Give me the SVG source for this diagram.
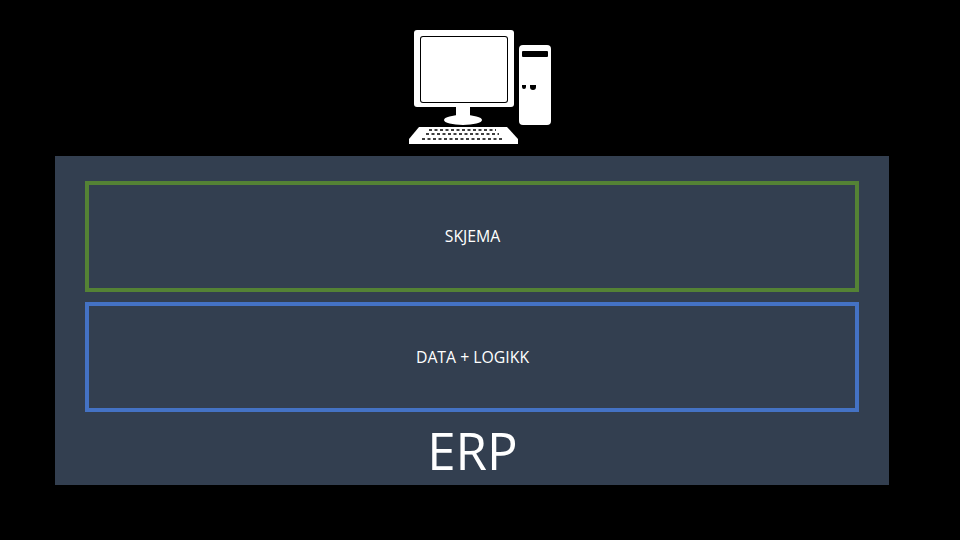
<svg xmlns="http://www.w3.org/2000/svg" width="960" height="540" viewBox="0 0 960 540">
<style>
.box{fill:none;stroke-width:4}
.lbl{font-family:"Open Sans","Noto Sans",sans-serif;fill:#fff;text-anchor:middle}
.s{font-size:15.800px}
.w{fill:#fff}
.k{fill:#000}
</style>
<rect width="960" height="540" fill="#000"/>
<g id="computer">
<rect class="w" x="414" y="30" width="100" height="77" rx="3"/>
<rect class="k" x="420" y="36" width="88" height="67" rx="3"/>
<rect class="w" x="421" y="37" width="86" height="65" rx="2"/>
<rect class="w" x="456" y="107" width="14" height="10"/>
<ellipse class="w" cx="463" cy="120" rx="19" ry="5"/>
<path class="w" d="M419 127H507L518 139V144H409V139Z"/>
<path d="M429 130H496M426 134H499M422 139H504" stroke="#000" stroke-width="1.500" stroke-dasharray="3 2.500" fill="none"/>
<rect class="w" x="519" y="45" width="32" height="80" rx="4"/>
<rect class="k" x="522" y="51" width="26" height="6" rx="1"/>
<path class="k" d="M522 85h4v2a2 2 0 0 1-4 0ZM530 85h6v2a3 3 0 0 1-6 0Z"/>
</g>
<g id="erp">
<rect x="55" y="156" width="834" height="329" fill="#333f50"/>
<text class="lbl" x="472.500" y="470" font-size="51">ERP</text>
</g>
<g id="skjema">
<rect class="box" x="87" y="183" width="770" height="107" stroke="#548235"/>
<text class="lbl s" x="472.500" y="242">SKJEMA</text>
</g>
<g id="data-logikk">
<rect class="box" x="87" y="304" width="770" height="106" stroke="#4472c4"/>
<text class="lbl s" x="472.500" y="363">DATA + LOGIKK</text>
</g>
<g id="connectors"/>
</svg>
